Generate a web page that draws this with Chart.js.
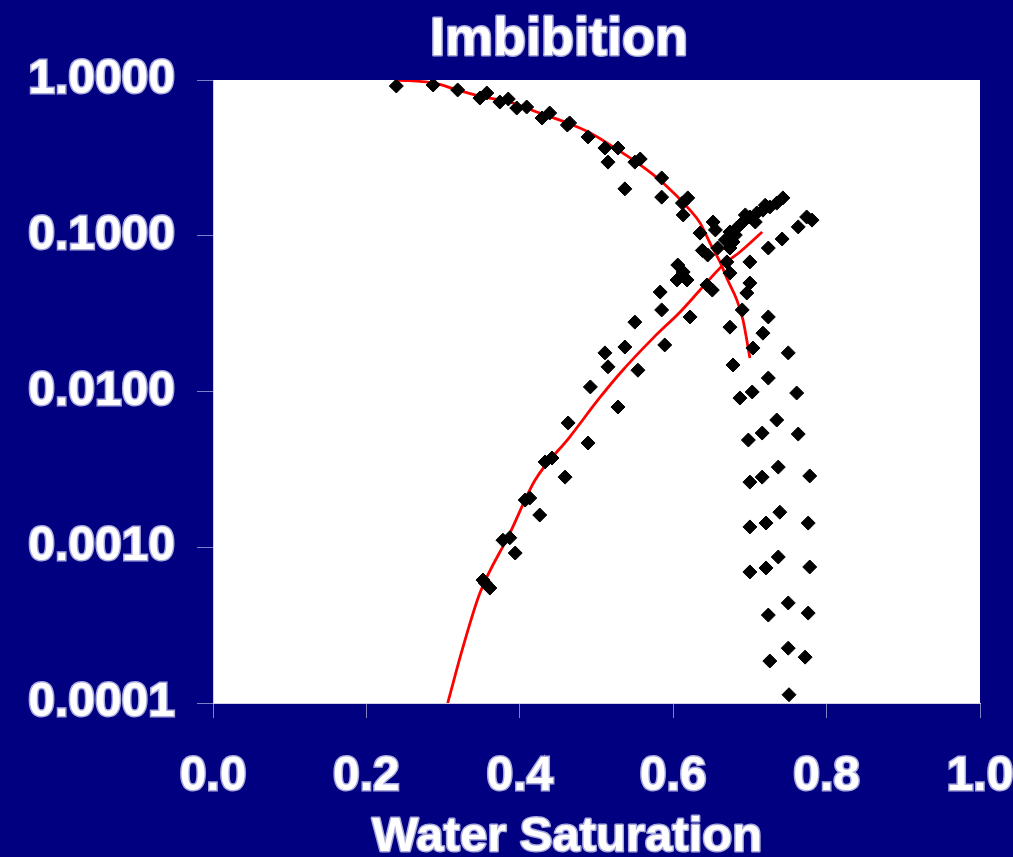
<!DOCTYPE html>
<html>
<head>
<meta charset="utf-8">
<script src="https://cdn.jsdelivr.net/npm/chart.js@4.4.1/dist/chart.umd.min.js"></script>
<style>
  html, body { margin: 0; padding: 0; background: #000080; }
  #wrap { width: 1013px; height: 857px; }
</style>
</head>
<body>
<div id="wrap"><canvas id="chart"></canvas></div>
<script>
// Imbibition relative permeability data
const chartTitle = "Imbibition";
const xTitle = "Water Saturation";
const xTicks = [0, 0.2, 0.4, 0.6, 0.8, 1.0];
const yTicks = [0.0001, 0.001, 0.01, 0.1, 1];

// oil points (falling branch)
const kroSw = [0.239, 0.287, 0.319, 0.348, 0.357, 0.374, 0.385, 0.396, 0.409, 0.429, 0.439, 0.462, 0.465, 0.489, 0.511, 0.528, 0.515, 0.550, 0.557, 0.537, 0.585, 0.585, 0.612, 0.619, 0.613, 0.635, 0.652, 0.655, 0.638, 0.645, 0.658, 0.670, 0.674, 0.700, 0.700, 0.696, 0.690, 0.674, 0.724, 0.717, 0.704, 0.750, 0.678, 0.724, 0.687, 0.703, 0.761, 0.735, 0.698, 0.716, 0.763, 0.737, 0.700, 0.716, 0.778, 0.739, 0.700, 0.721, 0.776, 0.737, 0.700, 0.721, 0.778, 0.750, 0.724, 0.776, 0.750, 0.726, 0.772, 0.751];
const kroVal = [0.915, 0.929, 0.863, 0.766, 0.825, 0.722, 0.755, 0.661, 0.671, 0.570, 0.614, 0.514, 0.530, 0.431, 0.366, 0.366, 0.297, 0.297, 0.311, 0.200, 0.235, 0.177, 0.162, 0.175, 0.136, 0.104, 0.1225, 0.109, 0.0805, 0.0752, 0.0834, 0.0679, 0.0576, 0.0679, 0.0497, 0.0429, 0.0334, 0.0259, 0.0301, 0.0237, 0.0190, 0.0177, 0.0148, 0.0122, 0.00908, 0.00993, 0.00978, 0.00656, 0.00488, 0.00541, 0.00533, 0.00327, 0.00262, 0.00282, 0.00287, 0.00168, 0.00135, 0.00143, 0.00143, 0.000866, 0.000694, 0.000736, 0.000747, 0.000439, 0.000367, 0.000378, 0.000225, 0.000186, 0.000197, 0.000113];

// water points (rising branch)
const krwSw = [0.352, 0.355, 0.361, 0.378, 0.387, 0.394, 0.407, 0.413, 0.426, 0.433, 0.442, 0.459, 0.463, 0.489, 0.492, 0.528, 0.511, 0.515, 0.537, 0.554, 0.550, 0.589, 0.583, 0.585, 0.622, 0.606, 0.613, 0.605, 0.618, 0.644, 0.651, 0.678, 0.674, 0.674, 0.683, 0.691, 0.700, 0.709, 0.717, 0.726, 0.735, 0.743, 0.694, 0.720, 0.668, 0.707, 0.681, 0.724, 0.742, 0.763, 0.774, 0.781];
const krwVal = [0.000616, 0.000589, 0.000547, 0.00111, 0.00115, 0.000918, 0.00201, 0.00207, 0.00161, 0.00353, 0.00374, 0.00282, 0.00628, 0.00467, 0.0107, 0.00795, 0.0177, 0.0144, 0.0193, 0.0137, 0.0279, 0.0199, 0.0435, 0.0334, 0.0301, 0.0649, 0.0585, 0.0520, 0.0520, 0.0483, 0.0448, 0.0912, 0.0834, 0.1057, 0.1122, 0.1225, 0.132, 0.140, 0.146, 0.153, 0.162, 0.175, 0.136, 0.157, 0.094, 0.1225, 0.101, 0.0834, 0.0953, 0.114, 0.132, 0.126];

// fitted curves (red)
const kroFitSw = [0.240, 0.287, 0.319, 0.348, 0.391, 0.422, 0.462, 0.492, 0.522, 0.557, 0.587, 0.622, 0.635, 0.648, 0.661, 0.671, 0.683, 0.691, 0.700];
const kroFitVal = [1.0, 0.957, 0.863, 0.789, 0.712, 0.623, 0.530, 0.457, 0.371, 0.285, 0.218, 0.146, 0.121, 0.0898, 0.0679, 0.0520, 0.0387, 0.0288, 0.0164];
const krwFitSw = [0.306, 0.326, 0.348, 0.387, 0.420, 0.465, 0.505, 0.531, 0.574, 0.609, 0.635, 0.665, 0.687, 0.716];
const krwFitVal = [0.0001, 0.000229, 0.000508, 0.00123, 0.0027, 0.0051, 0.00922, 0.01315, 0.0221, 0.0324, 0.0448, 0.0649, 0.0787, 0.1057];

const toPts = (xs, ys) => xs.map((x, i) => ({ x: x, y: ys[i] }));

const NAVY = '#000080';
const LABEL_STROKE = '#a8a8dc';
const fontFamily = '"Liberation Sans", Arial, sans-serif';

const backdrop = {
  id: 'backdrop',
  beforeDraw(chart) {
    const { ctx, chartArea: a } = chart;
    ctx.save();
    ctx.fillStyle = NAVY;
    ctx.fillRect(0, 0, chart.width, chart.height);
    ctx.fillStyle = '#ffffff';
    ctx.fillRect(a.left, a.top, a.right - a.left, a.bottom - a.top);
    ctx.restore();
  },
  afterDraw(chart) {
    const ctx = chart.ctx;
    const drawText = (txt, x, y, size) => {
      ctx.save();
      ctx.font = 'bold ' + size + 'px ' + fontFamily;
      ctx.textAlign = 'center';
      ctx.textBaseline = 'alphabetic';
      ctx.lineWidth = 3;
      ctx.strokeStyle = LABEL_STROKE;
      ctx.lineJoin = 'round';
      ctx.strokeText(txt, x, y);
      ctx.fillStyle = '#ffffff';
      ctx.fillText(txt, x, y);
      ctx.restore();
    };
    drawText(chartTitle, 559, 55, 54);
    drawText(xTitle, 567, 851, 49);
  }
};

const pointStyleOpts = {
  pointStyle: 'rectRot',
  pointRadius: 7,
  pointBackgroundColor: '#000000',
  pointBorderColor: '#000000',
  pointBorderWidth: 1,
  order: 0
};

const fitStyleOpts = {
  showLine: true,
  pointRadius: 0,
  borderColor: '#ff0000',
  borderWidth: 2.8,
  cubicInterpolationMode: 'monotone',
  order: 1
};

new Chart(document.getElementById('chart'), {
  type: 'scatter',
  data: {
    datasets: [
      Object.assign({ label: 'kro', data: toPts(kroSw, kroVal) }, pointStyleOpts),
      Object.assign({ label: 'krw', data: toPts(krwSw, krwVal) }, pointStyleOpts),
      Object.assign({ label: 'kro fit', data: toPts(kroFitSw, kroFitVal) }, fitStyleOpts),
      Object.assign({ label: 'krw fit', data: toPts(krwFitSw, krwFitVal) }, fitStyleOpts)
    ]
  },
  options: {
    responsive: true,
    maintainAspectRatio: false,
    animation: false,
    layout: { padding: { top: 80, right: 33, left: 0, bottom: 0 } },
    plugins: {
      legend: { display: false },
      tooltip: { enabled: false },
      title: { display: false }
    },
    scales: {
      x: {
        type: 'linear',
        min: 0,
        max: 1,
        afterBuildTicks: (scale) => { scale.ticks = xTicks.map(v => ({ value: v })); },
        afterFit: (scale) => {
          scale.height = 154;
          scale.paddingLeft = 0;
          scale.paddingRight = 0;
        },
        border: { display: true, color: '#d0d0e8', width: 1 },
        grid: { drawOnChartArea: false, drawTicks: true, tickLength: 15, tickColor: '#8080c0', color: '#8080c0' },
        ticks: {
          padding: 30,
          color: '#ffffff',
          textStrokeColor: LABEL_STROKE,
          textStrokeWidth: 3,
          font: { family: fontFamily, size: 48, weight: 'bold' },
          callback: (v) => Number(v).toFixed(1)
        }
      },
      y: {
        type: 'logarithmic',
        min: 0.0001,
        max: 1,
        afterBuildTicks: (scale) => { scale.ticks = yTicks.map(v => ({ value: v, major: true })); },
        afterFit: (scale) => {
          scale.width = 213;
          scale.paddingTop = 0;
          scale.paddingBottom = 0;
        },
        border: { display: true, color: '#d0d0e8', width: 1 },
        grid: { drawOnChartArea: false, drawTicks: true, tickLength: 16, tickColor: '#8080c0', color: '#8080c0' },
        ticks: {
          padding: 22,
          color: '#ffffff',
          textStrokeColor: LABEL_STROKE,
          textStrokeWidth: 3,
          font: { family: fontFamily, size: 48, weight: 'bold' },
          callback: (v) => Number(v).toFixed(4)
        }
      }
    }
  },
  plugins: [backdrop]
});
</script>
</body>
</html>
